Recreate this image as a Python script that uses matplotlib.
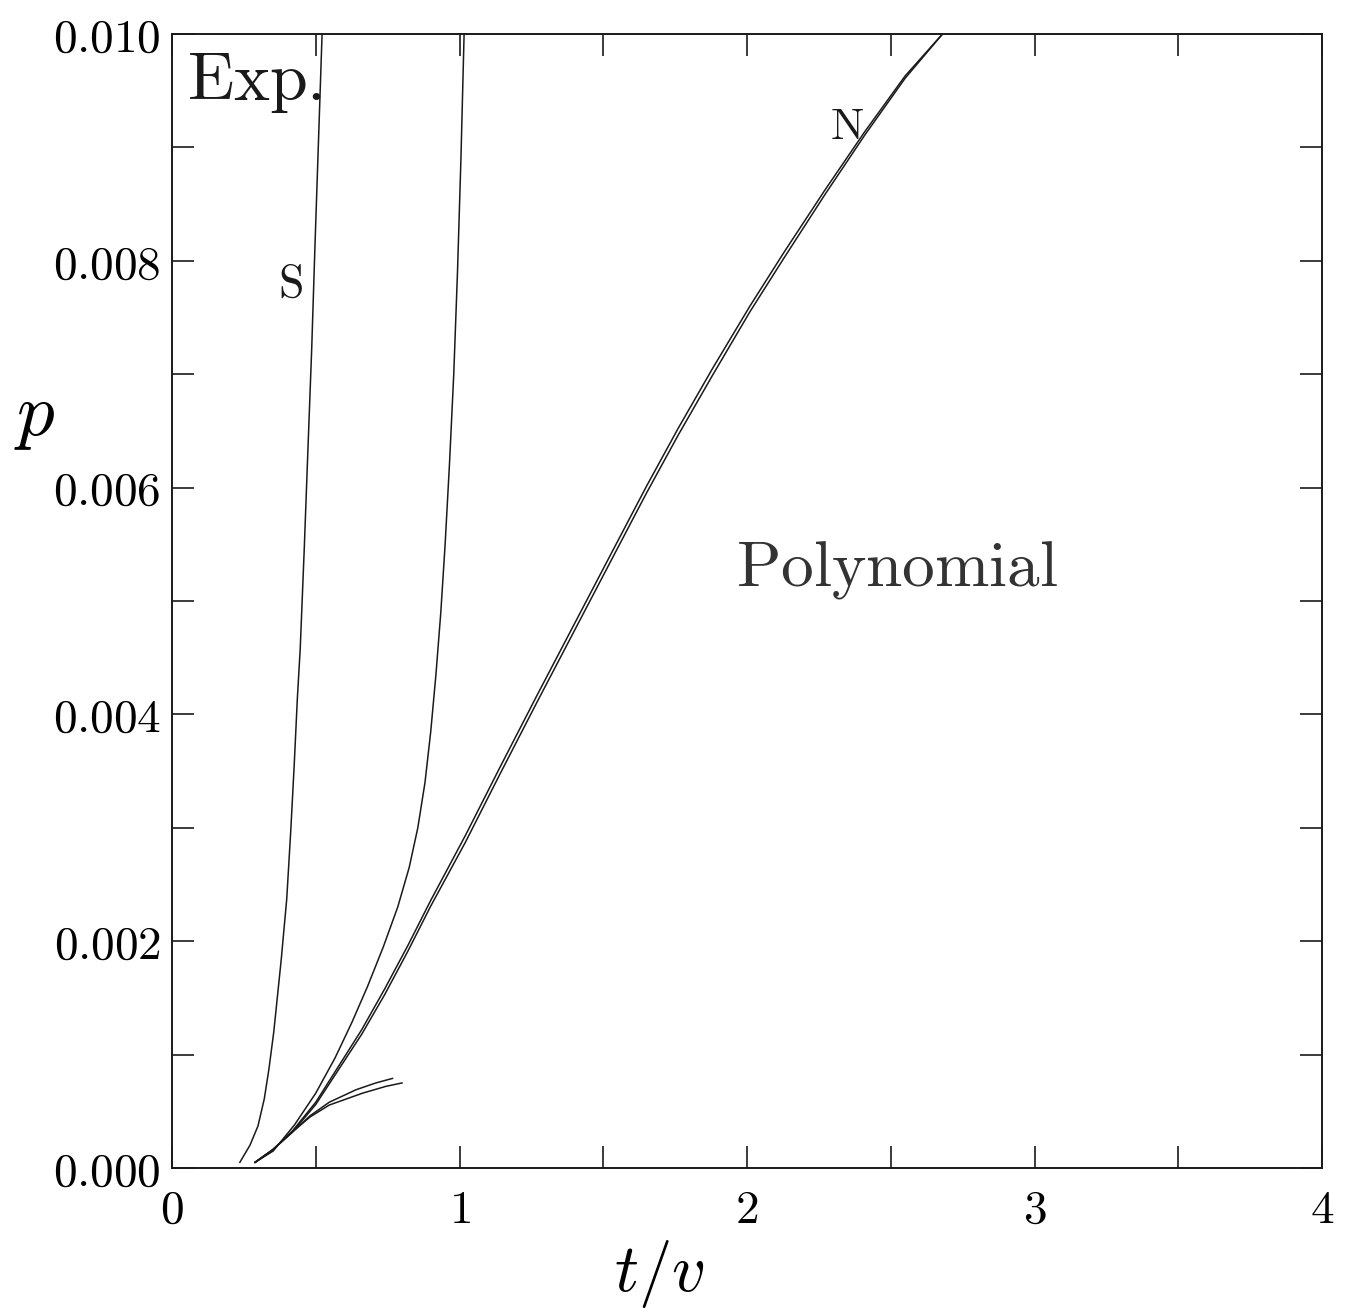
import matplotlib
matplotlib.use("Agg")
import matplotlib.pyplot as plt
from matplotlib.ticker import MultipleLocator, FuncFormatter

plt.rcParams['mathtext.fontset'] = 'cm'
plt.rcParams['font.family'] = ['DejaVu Serif']

# ---- data, p values in units of 1e-3 ----
# Exponential case, curve labelled "S"
s_x = [0.236, 0.271, 0.299, 0.321, 0.337, 0.354, 0.367, 0.380, 0.399, 0.413,
       0.425, 0.436, 0.446, 0.460, 0.473, 0.486, 0.497, 0.522]
s_p = [0.05, 0.20, 0.37, 0.61, 0.87, 1.20, 1.52, 1.84, 2.37, 2.97,
       3.55, 4.14, 4.58, 5.46, 6.35, 7.23, 8.11, 10.0]

# Exponential case, second curve
m_x = [0.289, 0.352, 0.426, 0.500, 0.567, 0.625, 0.680, 0.735, 0.785, 0.825,
       0.855, 0.880, 0.900, 0.918, 0.935, 0.950, 0.965, 0.980, 0.993, 1.005, 1.016]
m_p = [0.05, 0.15, 0.38, 0.66, 0.97, 1.28, 1.60, 1.95, 2.30, 2.65,
       3.00, 3.40, 3.85, 4.35, 4.90, 5.50, 6.20, 7.00, 7.90, 8.90, 10.0]

# Polynomial case, curve labelled "N" (double line)
n_x = [0.289, 0.35, 0.42, 0.50, 0.58, 0.66, 0.74, 0.82, 0.90, 1.02,
       1.14, 1.27, 1.40, 1.53, 1.65, 1.76, 1.88, 2.01, 2.13, 2.27,
       2.41, 2.55, 2.68]
n1_p = [0.05, 0.16, 0.33, 0.58, 0.90, 1.22, 1.58, 1.96, 2.36, 2.93,
        3.53, 4.17, 4.80, 5.43, 6.01, 6.52, 7.05, 7.60, 8.08, 8.62,
        9.14, 9.63, 10.0]
n2_p = [0.05, 0.16, 0.32, 0.56, 0.87, 1.18, 1.53, 1.91, 2.31, 2.87,
        3.47, 4.11, 4.74, 5.37, 5.95, 6.46, 6.99, 7.55, 8.03, 8.58,
        9.11, 9.61, 10.0]

# Polynomial case, two short curves
q1_x = [0.289, 0.35, 0.42, 0.48, 0.547, 0.640, 0.709, 0.767]
q1_p = [0.05, 0.16, 0.32, 0.46, 0.58, 0.69, 0.75, 0.79]
q2_x = [0.289, 0.35, 0.42, 0.48, 0.547, 0.663, 0.744, 0.800]
q2_p = [0.05, 0.16, 0.32, 0.45, 0.555, 0.66, 0.72, 0.75]

x_ticks = [0, 1, 2, 3, 4]
y_ticks = [0.000, 0.002, 0.004, 0.006, 0.008, 0.010]

SCALE = 1e-3

fig = plt.figure(figsize=(13.48, 13.08), dpi=100)
ax = fig.add_axes([172 / 1348, 140 / 1308, 1150 / 1348, 1134 / 1308])

lw = 1.1
col = '#1a1a1a'
ax.plot(s_x, [v * SCALE for v in s_p], color=col, lw=lw)
ax.plot(m_x, [v * SCALE for v in m_p], color=col, lw=lw)
ax.plot(n_x, [v * SCALE for v in n1_p], color=col, lw=lw)
ax.plot(n_x, [v * SCALE for v in n2_p], color=col, lw=lw)
ax.plot(q1_x, [v * SCALE for v in q1_p], color=col, lw=lw)
ax.plot(q2_x, [v * SCALE for v in q2_p], color=col, lw=lw)

ax.set_xlim(0, 4)
ax.set_ylim(0, 0.010)
ax.set_xticks(x_ticks)
ax.set_yticks(y_ticks)
ax.xaxis.set_minor_locator(MultipleLocator(0.5))
ax.yaxis.set_minor_locator(MultipleLocator(0.001))
ax.xaxis.set_major_formatter(FuncFormatter(lambda v, pos: r'$%d$' % round(v)))
ax.yaxis.set_major_formatter(FuncFormatter(lambda v, pos: r'$%.3f$' % v))

for which in ('major', 'minor'):
    ax.tick_params(which=which, direction='in', length=16, width=1.2,
                   top=True, right=True, color=col)
ax.tick_params(axis='x', which='major', labelsize=34, pad=14)
ax.tick_params(axis='y', which='major', labelsize=34, pad=8)
for sp in ax.spines.values():
    sp.set_linewidth(1.4)
    sp.set_color(col)

ax.set_xlabel(r'$t/v$', fontsize=48)
ax.xaxis.set_label_coords(0.424, -0.062)
ax.set_ylabel(r'$p$', fontsize=54, rotation=0, ha='center', va='center')
ax.yaxis.set_label_coords(-0.119, 0.664)

ax.text(0.051, 0.00942, r'$\mathrm{Exp.}$', fontsize=49, ha='left', va='baseline', color=col)
ax.text(1.962, 0.00514, r'$\mathrm{Polynomial}$', fontsize=47, ha='left', va='baseline', color='#333333')
ax.text(0.370, 0.00768, r'$\mathrm{S}$', fontsize=33, ha='left', va='baseline', color=col)
ax.text(2.289, 0.00907, r'$\mathrm{N}$', fontsize=32, ha='left', va='baseline', color=col)

fig.savefig('out.png', dpi=100, facecolor='white')
